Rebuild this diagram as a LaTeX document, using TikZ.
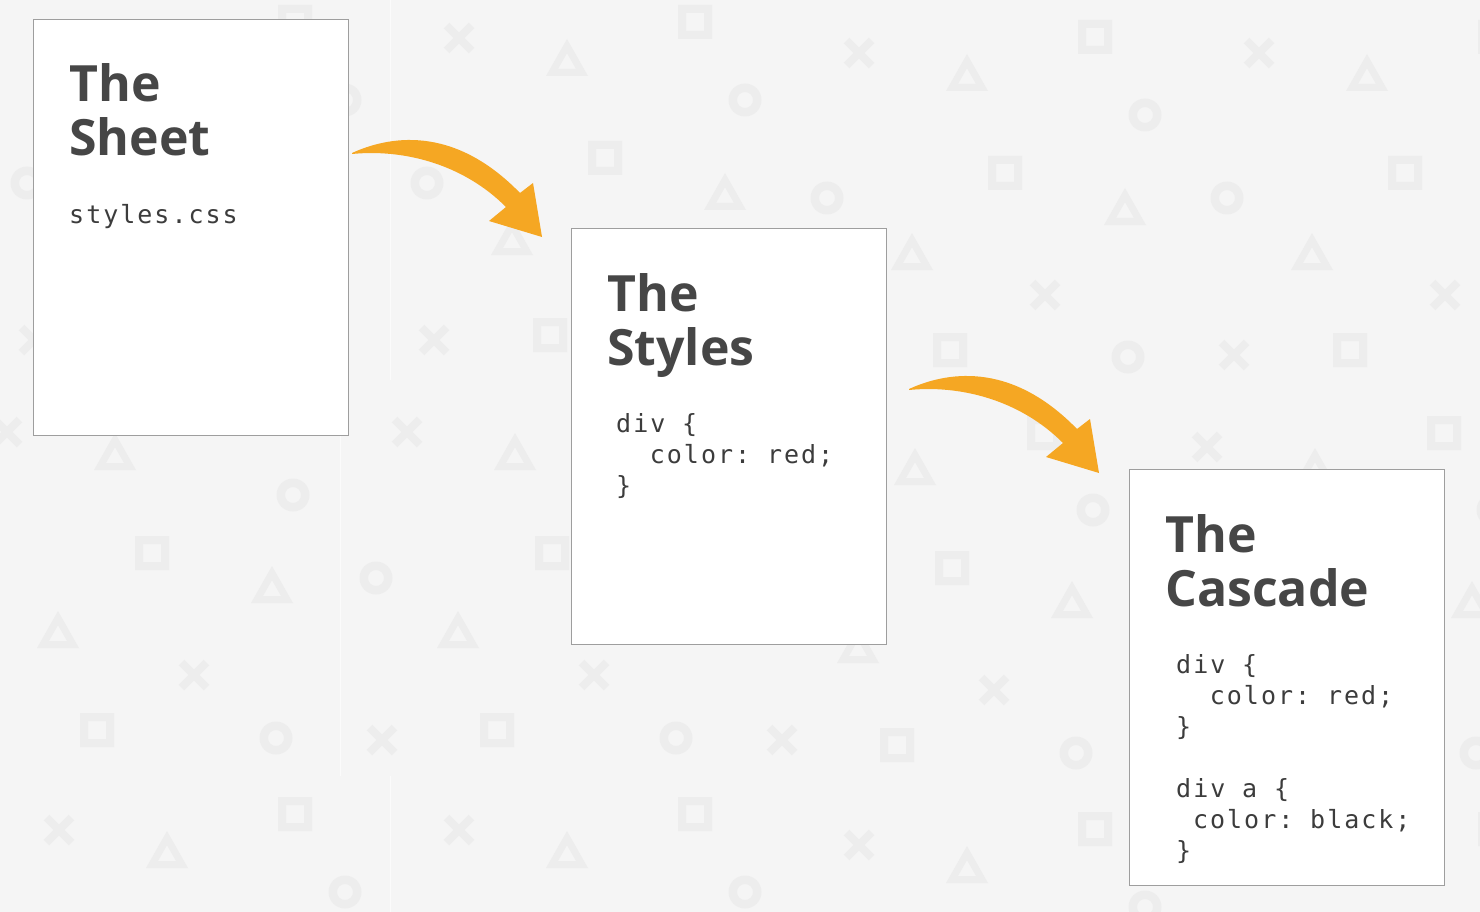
\documentclass[tikz,border=0pt]{standalone}
\usepackage{fontspec}
\newfontfamily\titlefont{Open Sans}
\newfontfamily\codefont[LetterSpace=8]{DejaVu Sans Mono}
\newcommand\csp{\hphantom{x}\kern1.8pt}
\definecolor{bg}{HTML}{F5F5F5}
\definecolor{patc}{HTML}{EDEDED}
\definecolor{seamc}{HTML}{FBFBFB}
\definecolor{cardline}{HTML}{9E9E9E}
\definecolor{titlec}{HTML}{464646}
\definecolor{codec}{HTML}{3C3C3C}
\definecolor{arrowc}{RGB}{245,167,35}
\newcommand\patX[2]{\draw[patc,line width=8pt,shift={(#1,#2)}] (-12.5,-12.5) -- (12.5,12.5) (-12.5,12.5) -- (12.5,-12.5);}
\newcommand\patS[2]{\fill[patc,even odd rule,shift={(#1,#2)}] (-17,-17) rectangle (17,17) (-9,-9) rectangle (9,9);}
\newcommand\patC[2]{\fill[patc,even odd rule,shift={(#1,#2)}] (0,0) circle[radius=16.5pt] (0,0) circle[radius=8pt];}
\newcommand\patT[2]{\fill[patc,even odd rule,shift={(#1,#2)}] (0,-19) -- (21,18) -- (-21,18) -- cycle (0,-4.8) -- (9,11) -- (-9,11) -- cycle;}
\newcommand\patTile{%
\patX{59}{38}\patX{34}{340}\patX{7}{432}\patX{194}{675}\patX{245}{280}\patX{382}{740}%
\patT{167}{58}\patT{325}{192}\patT{112}{237}\patT{115}{452}\patT{58}{630}\patT{272}{585}%
\patS{295}{22}\patS{205}{158}\patS{150}{335}\patS{152}{553}\patS{97}{730}\patS{244}{418}%
\patC{345}{100}\patC{27}{183}\patC{276}{738}\patC{293}{495}\patC{376}{578}\patC{328}{342}}
\tikzset{
  card/.style={draw=cardline,line width=1.2pt,fill=white,minimum width=315pt,minimum height=416pt,anchor=north west,inner sep=0pt},
  ttl/.style={font=\titlefont\bfseries\fontsize{50}{52}\selectfont,text=titlec,anchor=base west,inner sep=0pt},
  codeline/.style={font=\codefont\fontsize{25}{31}\selectfont,text=codec,anchor=base west,inner sep=0pt},
  bentarrow/.pic={\fill[arrowc] (0,0) .. controls (35,-16) and (100,-30) .. (168,40) -- (181,30) -- (190,84) -- (137,68) -- (154,54) .. controls (110,10) and (50,-4) .. (0,1) -- cycle;}
}
\begin{document}
\begin{tikzpicture}[x=1pt,y=-1pt]
\useasboundingbox (0,0) rectangle (1480,912);
\fill[bg] (0,0) rectangle (1480,912);
\begin{scope}
  \clip (0,0) rectangle (1480,912);
  \foreach \ox/\dy in {0/0,400/0,800/15,1200/15} {
    \foreach \oy in {-792,0,792} {
      \begin{scope}[shift={(\ox,\oy+\dy)}]
        \patTile
      \end{scope}
    }
  }
  \draw[seamc,line width=1.5pt] (390.5,0) -- (390.5,380);
  \draw[seamc,line width=1.5pt] (340.5,380) -- (340.5,776);
  \draw[seamc,line width=1.5pt] (390.5,776) -- (390.5,912);
\end{scope}

% cards
\node[card] (sheet) at (33,19) {};
\node[card] (styles) at (571,228) {};
\node[card] (cascade) at (1129,469) {};

% titles
\node[ttl] (sheetT1) at ([shift={(36,83)}]sheet.north west) {The};
\node[ttl] (sheetT2) at ([shift={(36,137)}]sheet.north west) {Sheet};
\node[ttl] (stylesT1) at ([shift={(36,83)}]styles.north west) {The};
\node[ttl] (stylesT2) at ([shift={(36,137)}]styles.north west) {Styles};
\node[ttl] (cascadeT1) at ([shift={(36,83)}]cascade.north west) {The};
\node[ttl] (cascadeT2) at ([shift={(36,137)}]cascade.north west) {Cascade};

% code
\node[codeline] (sheetC1) at ([shift={(36,204)}]sheet.north west) {styles.css};
\node[codeline] (stylesC1) at ([shift={(45,204)}]styles.north west) {div\csp\{};
\node[codeline] (stylesC2) at ([shift={(45,235)}]styles.north west) {\csp\csp color:\csp red;};
\node[codeline] (stylesC3) at ([shift={(45,266)}]styles.north west) {\}};
\node[codeline] (cascadeC1) at ([shift={(47,204)}]cascade.north west) {div\csp\{};
\node[codeline] (cascadeC2) at ([shift={(47,235)}]cascade.north west) {\csp\csp color:\csp red;};
\node[codeline] (cascadeC3) at ([shift={(47,266)}]cascade.north west) {\}};
\node[codeline] (cascadeC4) at ([shift={(47,328)}]cascade.north west) {div\csp a\csp\{};
\node[codeline] (cascadeC5) at ([shift={(47,359)}]cascade.north west) {\csp color:\csp black;};
\node[codeline] (cascadeC6) at ([shift={(47,390)}]cascade.north west) {\}};

% arrows
\coordinate (arrowA) at (352,153);
\coordinate (arrowB) at (909,389);
\pic at (arrowA) {bentarrow};
\pic at (arrowB) {bentarrow};
\end{tikzpicture}
\end{document}
